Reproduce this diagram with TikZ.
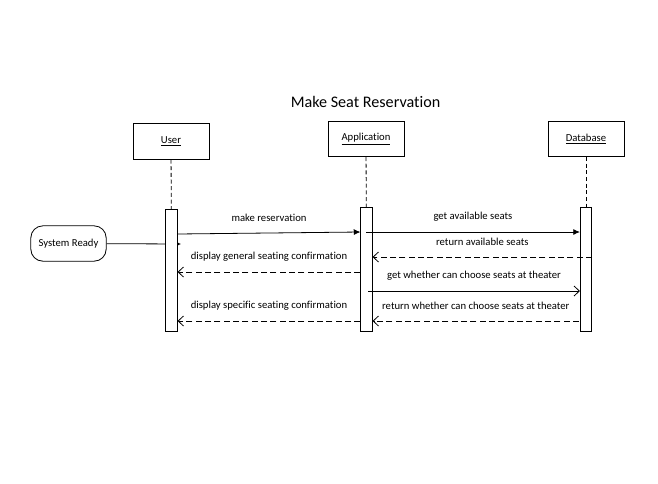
\documentclass[tikz,border=0pt]{standalone}
\usepackage{fontspec}
\setmainfont{Carlito}[Ligatures=NoCommon]
\usetikzlibrary{arrows.meta,positioning}

\begin{document}
\begin{tikzpicture}[x=0.75pt,y=-0.75pt,font=\fontsize{8}{9.6}\selectfont,line width=0.6pt]
\tikzstyle{obj}=[draw,fill=white,minimum width=57pt,minimum height=26.5pt,inner sep=0pt]
\tikzstyle{act}=[draw,fill=white,minimum width=8.5pt,inner sep=0pt,anchor=north]
\tikzstyle{life}=[dash pattern=on 3pt off 2pt]
\tikzstyle{call}=[-{Latex[length=5pt,width=4.5pt]}]
\tikzstyle{callopen}=[-{Straight Barb[length=4pt,width=7.5pt]}]
\tikzstyle{reply}=[dash pattern=on 4.5pt off 2.5pt,-{Straight Barb[length=4pt,width=7.5pt]}]
\tikzstyle{lbl}=[midway,yshift=11.25pt]
\useasboundingbox (0,0) rectangle (658,483);

\node[font=\fontsize{12.1}{14}\selectfont] (title) at (365.5,102) {Make Seat Reservation};

% objects
\node[obj] (user) at (171,141.5) {\underline{User}};
\node[obj] (app) at (366,139) {\underline{Application}};
\node[obj] (db) at (586,139) {\underline{Database}};
\node[draw,rounded corners=9pt,minimum width=56.5pt,minimum height=26.5pt,inner sep=0pt] (ready) at (68.5,243.5) {System Ready};

% lifelines
\coordinate (tip) at (181,244);
\draw[-{Latex[length=3pt,width=3pt]}] (ready) -- (tip);
\node[act,minimum height=91.5pt] (uact) at (171.5,209) {};
\node[act,minimum height=93pt] (aact) at (366.5,207) {};
\node[act,minimum height=93pt] (dact) at (586,207) {};
\draw[life] (user) -- (uact);
\draw[life] (app) -- (aact);
\draw[life] (db) -- (dact);

% messages
\coordinate (y1) at (0,234);
\coordinate (y1b) at (0,232);
\coordinate (y2) at (0,257);
\coordinate (y3) at (0,272);
\coordinate (y4) at (0,291);
\coordinate (y5) at (0,321);
\coordinate (s1) at (366,232);
\coordinate (s4) at (368,291);
\coordinate (s5) at (579,321);

\draw[call] (uact.east |- y1) -- (aact.west |- y1b) node[lbl]{make reservation};
\draw[call] (s1) -- (dact.west |- y1b) node[lbl]{get available seats};
\draw[reply] (dact.east |- y2) -- (aact.east |- y2) node[lbl]{return available seats};
\draw[reply] (aact.west |- y3) -- (uact.east |- y3) node[lbl]{display general seating confirmation};
\draw[callopen] (s4) -- (dact.west |- y4) node[lbl]{get whether can choose seats at theater};
\draw[reply] (s5) -- (aact.east |- y5) node[lbl]{return whether can choose seats at theater};
\draw[reply] (aact.west |- y5) -- (uact.east |- y5) node[lbl]{display specific seating confirmation};
\end{tikzpicture}
\end{document}
